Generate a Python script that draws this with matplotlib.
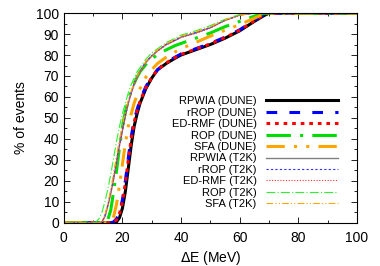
#!/usr/bin/env python3
# -*- coding: utf-8 -*-
"""
Cumulative distribution of Delta E for DUNE and T2K models.
"""

import matplotlib
matplotlib.use('Agg')
import matplotlib.pyplot as plt
import matplotlib.ticker as ticker

# energy transfer grid (MeV)
delta_e = [0, 10, 11, 12, 13, 14, 15, 16, 17, 18, 19, 20, 21, 22, 23, 24, 25,
           26, 28, 30, 32, 35, 38, 40, 45, 50, 55, 60, 65, 68, 70, 100]

# % of events, DUNE
rpwia_dune = [0, 0, 0, 0, 0, 0, 0, 0, 0, 0.5, 2.5, 7, 15, 26, 37, 46, 52,
              57, 64, 69, 73, 76, 78.5, 80, 82.5, 85, 88, 91.5, 96, 98.5, 100, 100]
rrop_dune = [0, 0, 0, 0, 0, 0, 0, 0, 0.5, 2, 5, 11, 20, 31, 41, 49, 54,
             58.5, 65, 69.5, 73, 76.5, 79, 80.5, 83, 85.5, 88.5, 92, 96.5, 99, 100, 100]
edrmf_dune = [0, 0, 0, 0, 0, 0, 0, 0, 0.3, 1.5, 4.5, 10, 19, 30, 40, 48, 53.5,
              58, 64.5, 69.3, 73, 76.3, 78.8, 80.3, 82.8, 85.3, 88.3, 91.8, 96.3, 98.8, 100, 100]
rop_dune = [0, 0, 0, 0, 0, 0.3, 1.5, 6, 15, 25, 36, 46, 53, 58.5, 63, 66.5, 69.5,
            72, 75.5, 78, 80.3, 82.5, 84.5, 85.5, 88, 90.5, 93.5, 96, 98.5, 99.8, 100, 100]
sfa_dune = [0, 0, 0, 0, 0, 0, 0, 0.5, 3, 9, 18, 28, 38, 46, 52, 57, 61,
            64, 69.5, 73, 76, 79, 81.5, 83, 86, 89, 91.8, 94.5, 97.5, 99.5, 100, 100]

# % of events, T2K
rpwia_t2k = [0, 0, 0, 0, 0.5, 3, 8, 14, 21, 29, 37, 44, 51, 57, 62, 66, 69.5,
             72, 76.5, 79.5, 82, 85, 87, 88.5, 90.5, 93, 96.5, 99, 100, 100, 100, 100]
rrop_t2k = [0, 0, 0, 0, 0.6, 3.3, 8.5, 14.5, 21.5, 29.5, 37.5, 44.5, 51.5, 57.5, 62.3, 66.3, 69.8,
            72.3, 76.8, 79.7, 82.2, 85.2, 87.2, 88.7, 90.7, 93.2, 96.6, 99, 100, 100, 100, 100]
edrmf_t2k = [0, 0, 0, 0, 0.4, 2.8, 7.7, 13.7, 20.7, 28.7, 36.7, 43.7, 50.7, 56.8, 61.8, 65.8, 69.3,
             71.8, 76.3, 79.3, 81.8, 84.8, 86.8, 88.3, 90.3, 92.8, 96.4, 98.9, 100, 100, 100, 100]
rop_t2k = [0, 0, 0.5, 2, 5, 10, 16, 23, 31, 39, 46, 52, 57, 62, 66, 69, 72,
           74, 78, 81, 83, 86, 88, 89.5, 91.5, 94, 97, 99.3, 100, 100, 100, 100]
sfa_t2k = [0, 0, 0, 0, 1, 4, 9, 16, 24, 32, 40, 47, 53, 58.5, 63, 67, 70,
           72.5, 77, 80, 82.5, 85.5, 87.5, 89, 91, 93.5, 96.8, 99, 100, 100, 100, 100]

labels = ['RPWIA (DUNE)', 'rROP (DUNE)', 'ED-RMF (DUNE)', 'ROP (DUNE)', 'SFA (DUNE)',
          'RPWIA (T2K)', 'rROP (T2K)', 'ED-RMF (T2K)', 'ROP (T2K)', 'SFA (T2K)']

plt.rcParams['font.family'] = ['Liberation Sans', 'DejaVu Sans']
plt.rcParams['mathtext.fontset'] = 'dejavusans'

fig = plt.figure(figsize=(3.8, 2.66), dpi=100)
ax = fig.add_axes([0.168, 0.162, 0.771, 0.789])

series = [rpwia_dune, rrop_dune, edrmf_dune, rop_dune, sfa_dune,
          rpwia_t2k, rrop_t2k, edrmf_t2k, rop_t2k, sfa_t2k]
styles = [
    dict(color='black', lw=2.2, ls='-'),
    dict(color='#0000ff', lw=2.2, ls=(0, (3.5, 4))),
    dict(color='#ff0000', lw=2.2, ls=(0, (1.2, 1.6))),
    dict(color='#00dd00', lw=2.2, ls=(0, (8, 3, 1, 3))),
    dict(color='#ffa500', lw=2.2, ls=(0, (6, 3, 1, 3, 1, 3))),
    dict(color='#808080', lw=1.0, ls='-'),
    dict(color='#3030ff', lw=0.8, ls=(0, (2, 2))),
    dict(color='#ff3030', lw=0.8, ls=(0, (1, 1.5))),
    dict(color='#30ee30', lw=0.8, ls=(0, (8, 2, 1, 2))),
    dict(color='#ffa500', lw=0.8, ls=(0, (6, 2, 1, 2, 1, 2))),
]

for y, st, lab in zip(series, styles, labels):
    ax.plot(delta_e, y, label=lab, **st)

ax.set_xlim(0, 100)
ax.set_ylim(0, 100)
ax.xaxis.set_major_locator(ticker.MultipleLocator(20))
ax.xaxis.set_minor_locator(ticker.MultipleLocator(10))
ax.yaxis.set_major_locator(ticker.MultipleLocator(10))
ax.yaxis.set_minor_locator(ticker.MultipleLocator(5))
ax.tick_params(which='both', direction='in', top=True, right=True, labelsize=10)
ax.tick_params(which='major', length=4, width=0.6)
ax.tick_params(which='minor', length=2.5, width=0.6)
ax.tick_params(axis='x', which='major', pad=6)
for sp in ax.spines.values():
    sp.set_linewidth(0.8)

ax.set_xlabel(r'$\Delta$E (MeV)', fontsize=10, labelpad=3)
ax.set_ylabel('% of events', fontsize=10, labelpad=6)

# text before sample, rows right-aligned (gnuplot style key)
ax.legend(loc='lower right', bbox_to_anchor=(0.935, 0.065), frameon=False,
          markerfirst=False, fontsize=8, handlelength=6.5, handletextpad=0.8,
          labelspacing=0.13, borderaxespad=0, borderpad=0)

fig.savefig('out.png', dpi=100)
